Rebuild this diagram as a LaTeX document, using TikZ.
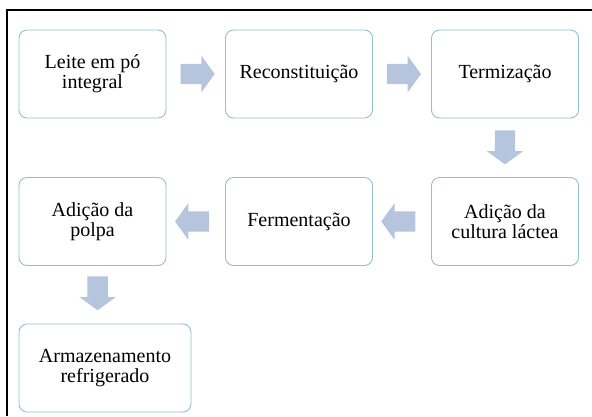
\documentclass[tikz,border=0pt]{standalone}
\usepackage{fontspec}
\setmainfont{Liberation Serif}
\usetikzlibrary{shapes.arrows,calc}
\definecolor{borda}{RGB}{145,192,210}
\definecolor{setacor}{RGB}{182,197,222}

\begin{document}
\begin{tikzpicture}[x=1pt,y=-1pt,
	etapa/.style={draw=borda, line width=0.9pt, rounded corners=8pt, fill=white,
		minimum width=147pt, minimum height=88pt, align=center, inner sep=2pt,
		font=\rmfamily\fontsize{20}{20}\selectfont},
	seta/.style={single arrow, fill=setacor, draw=none, inner xsep=0pt, inner ysep=10pt,
		minimum height=34pt, single arrow head extend=8pt, single arrow tip angle=108}]
	
			\useasboundingbox (0,0) rectangle (592,416);
			
			% Draw frame.
			\draw[line width=1.3pt] (7,416) -- (7,10) -- (592,10);
			
			% Draw steps.
			\node[etapa] (leite) at (92.5,74) {Leite em pó\\integral};
			\node[etapa] (recon) at (299,74) {Reconstituição};
			\node[etapa] (termi) at (505,74) {Termização};
			\node[etapa] (cultura) at (505,221.5) {Adição da\\cultura láctea};
			\node[etapa] (ferm) at (299,221.5) {Fermentação};
			\node[etapa] (polpa) at (92.5,221.5) {Adição da\\polpa};
			\node[etapa, minimum width=172pt] (armaz) at (105,368) {Armazenamento\\refrigerado};
			
			% Draw arrows between steps.
			\node[seta] (s1) at ($(leite.east)!0.47!(recon.west)$) {};
			\node[seta] (s2) at ($(recon.east)!0.47!(termi.west)$) {};
			\node[seta, rotate=-90] (s3) at ($(termi.south)!0.43!(cultura.north)$) {};
			\node[seta, rotate=180] (s4) at ($(cultura.west)!0.5!(ferm.east)$) {};
			\node[seta, rotate=180] (s5) at ($(ferm.west)!0.5!(polpa.east)$) {};
			\node[seta, rotate=-90] (s6) at ($(polpa.south)!0.41!(armaz.north)$) {};
			
\end{tikzpicture}
\end{document}
